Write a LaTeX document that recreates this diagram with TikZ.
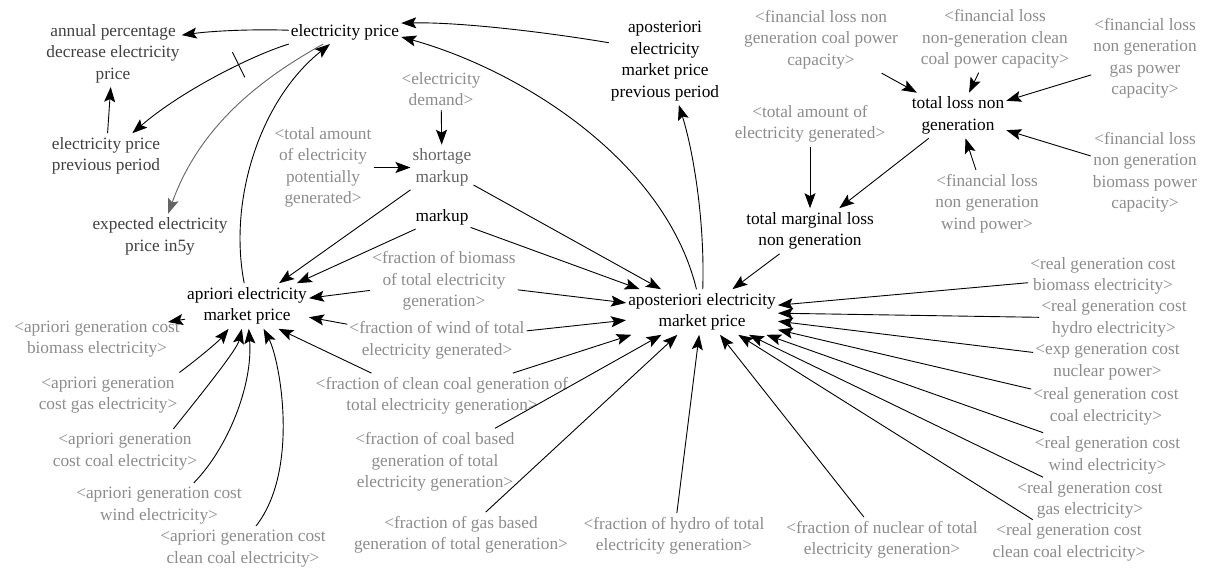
\documentclass[tikz,border=0pt]{standalone}
\usepackage{fontspec}
\setmainfont{Liberation Serif}
\usetikzlibrary{arrows.meta,decorations.markings}
\definecolor{shadowgray}{RGB}{140,140,140}
\definecolor{midgray}{RGB}{100,100,100}
\definecolor{dimgray}{RGB}{64,64,64}
\begin{document}
\begin{tikzpicture}[x=1pt,y=-1pt,
  every node/.style={font=\fontsize{17.3}{21.5}\selectfont, align=center, inner xsep=2pt, inner ysep=4pt},
  var/.style={text=black},
  dvar/.style={text=dimgray},
  mvar/.style={text=midgray},
  shadow/.style={text=shadowgray},
  arr/.style={draw=black, line width=0.9pt, -{Stealth[length=15pt,width=11pt,inset=3pt]}},
  garr/.style={draw=midgray, line width=0.9pt, -{Stealth[length=15pt,width=11pt,inset=3pt]}},
  delaymark/.style={postaction={decorate},
    decoration={markings, mark=at position 0.3 with {\draw[-, line width=0.9pt] (0,-14pt) -- (0,14pt);}}}
]
\useasboundingbox (0,0) rectangle (1212,570);

% --- variables
\node[var]  (elp)   at (345,32)    {electricity price};
\node[dvar] (apd)   at (113,53.5)  {annual percentage\\decrease electricity\\price};
\node[dvar] (epp)   at (106,156)   {electricity price\\previous period};
\node[dvar] (eep)   at (160,236.5) {expected electricity\\price in5y};
\node[shadow] (edem) at (441,89)   {<electricity\\demand>};
\node[shadow] (tap)  at (323,167.5) {<total amount\\of electricity\\potentially\\generated>};
\node[mvar] (sm)    at (442,167.5) {shortage\\markup};
\node[var]  (mk)    at (442,217)   {markup};
\node[var]  (app)   at (665,61)    {aposteriori\\electricity\\market price\\previous period};
\node[var]  (tln)   at (958,115.5) {total loss non\\generation};
\node[shadow] (flc)  at (821,39.5) {<financial loss non\\generation coal power\\capacity>};
\node[shadow] (flcc) at (995,39)   {<financial loss\\non-generation clean\\coal power capacity>};
\node[shadow] (flg)  at (1145,58.5) {<financial loss\\non generation\\gas power\\capacity>};
\node[shadow] (flb)  at (1145,172.5) {<financial loss\\non generation\\biomass power\\capacity>};
\node[shadow] (flw)  at (987,203.5) {<financial loss\\non generation\\wind power>};
\node[shadow] (tag)  at (810,124)  {<total amount of\\electricity generated>};
\node[var]  (tml)   at (810,231)   {total marginal loss\\non generation};
\node[var]  (apost) at (702,312)   {aposteriori electricity\\market price};
\node[var]  (aprio) at (247,306)   {apriori electricity\\market price};

\node[shadow] (agb)  at (97,339)   {<apriori generation cost\\biomass electricity>};
\node[shadow] (agg)  at (108,395)  {<apriori generation\\cost gas electricity>};
\node[shadow] (agc)  at (125,451.5) {<apriori generation\\cost coal electricity>};
\node[shadow] (agw)  at (159,505.5) {<apriori generation cost\\wind electricity>};
\node[shadow] (agcc) at (243,548.5) {<apriori generation cost\\clean coal electricity>};

\node[shadow] (fbio)  at (444,281)  {<fraction of biomass\\of total electricity\\generation>};
\node[shadow] (fwind) at (437,340.5) {<fraction of wind of total\\electricity generated>};
\node[shadow] (fcc)   at (442,396)  {<fraction of clean coal generation of\\total electricity generation>};
\node[shadow] (fcb)   at (435,462)  {<fraction of coal based\\generation of total\\electricity generation>};
\node[shadow] (fgas)  at (461,535)  {<fraction of gas based\\generation of total generation>};
\node[shadow] (fhyd)  at (674,536)  {<fraction of hydro of total\\electricity generation>};
\node[shadow] (fnuc)  at (882,540)  {<fraction of nuclear of total\\electricity generation>};

\node[shadow] (rbio)  at (1103,276)  {<real generation cost\\biomass electricity>};
\node[shadow] (rhyd)  at (1114,318.5) {<real generation cost\\hydro electricity>};
\node[shadow] (rnuc)  at (1107.5,361.5) {<exp generation cost\\nuclear power>};
\node[shadow] (rcoal) at (1106,406.5) {<real generation cost\\coal electricity>};
\node[shadow] (rwind) at (1107.5,455.5) {<real generation cost\\wind electricity>};
\node[shadow] (rgas)  at (1090,500)  {<real generation cost\\gas electricity>};
\node[shadow] (rcc)   at (1069,542.5) {<real generation cost\\clean coal electricity>};

\coordinate (stub) at (168,322);

% --- electricity price loop
\draw[arr] (elp) .. controls (250,29) and (212,31) .. (apd.15);
\draw[arr, delaymark] (elp.south west) .. controls (250,56) and (180,92) .. (epp);
\draw[garr] (elp) .. controls (262,78) and (200,125) .. (eep);
\draw[arr] (epp) -- (apd);
\draw[arr] (aprio.97) .. controls (228,200) and (260,100) .. (elp);
\draw[arr] (apost) .. controls (665,160) and (520,70) .. (elp.-5);
\draw[arr] (app.162) .. controls (545,32) and (460,22) .. (elp.9);
\draw[arr] (apost) .. controls (705,220) and (693,150) .. (app);

% --- markups
\draw[arr] (edem) -- (sm);
\draw[arr] (tap) -- (sm);
\draw[arr] (sm) -- (aprio);
\draw[arr] (sm) -- (apost);
\draw[arr] (mk) -- (aprio);
\draw[arr] (mk) -- (apost);

% --- generation fractions
\draw[arr] (fbio) -- (aprio);
\draw[arr] (fbio) -- (apost);
\draw[arr] (fwind) -- (aprio);
\draw[arr] (fwind) -- (apost);
\draw[arr] (fcc.162) -- (aprio.-36);
\draw[arr] (fcc) -- (apost);
\draw[arr] (fcb) -- (apost);
\draw[arr] (fgas) -- (apost);
\draw[arr] (fhyd) -- (apost);
\draw[arr] (fnuc) -- (apost);

% --- real generation costs
\draw[arr] (rbio) -- (apost);
\draw[arr] (rhyd) -- (apost);
\draw[arr] (rnuc) -- (apost);
\draw[arr] (rcoal) -- (apost);
\draw[arr] (rwind) -- (apost);
\draw[arr] (rgas) -- (apost);
\draw[arr] (rcc) -- (apost);

% --- non generation losses
\draw[arr] (flc) -- (tln);
\draw[arr] (flcc) -- (tln);
\draw[arr] (flg) -- (tln);
\draw[arr] (flb) -- (tln);
\draw[arr] (flw) -- (tln);
\draw[arr] (tln) -- (tml);
\draw[arr] (tag) -- (tml);
\draw[arr] (tml) -- (apost);

% --- apriori generation costs
\draw[arr] (aprio.192) -- (stub);
\draw[arr] (agg.north east) .. controls (195,361) and (218,342) .. (aprio);
\draw[arr] (agc.25) .. controls (198,398) and (237,350) .. (aprio);
\draw[arr] (agw.33) .. controls (228,448) and (253,385) .. (aprio);
\draw[arr] (agcc.60) .. controls (300,470) and (280,360) .. (aprio.-54);
\end{tikzpicture}
\end{document}
